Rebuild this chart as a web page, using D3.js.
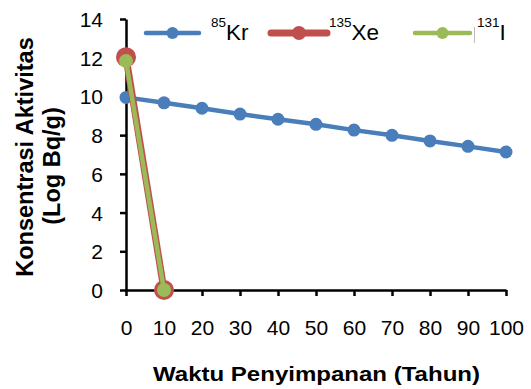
<!DOCTYPE html>
<html>
<head>
<meta charset="utf-8">
<script src="https://cdn.jsdelivr.net/npm/d3@7"></script>
<style>
  html, body { margin: 0; padding: 0; background: #fff; }
  svg { display: block; }
  text { font-family: "Liberation Sans", Arial, sans-serif; fill: #000; }
</style>
</head>
<body>
<svg id="chart" width="531" height="389"></svg>
<script>
// Storage time (years)
const years = [0, 10, 20, 30, 40, 50, 60, 70, 80, 90, 100];
// Activity concentration, log Bq/g
const kr85 = [9.95, 9.67, 9.39, 9.09, 8.82, 8.56, 8.26, 7.99, 7.70, 7.42, 7.13];
const xe135Years = [0, 10];
const xe135 = [12.03, 0];
const i131Years = [0, 10];
const i131 = [11.83, 0];
const yTicks = [0, 2, 4, 6, 8, 10, 12, 14];
const xTicks = [0, 10, 20, 30, 40, 50, 60, 70, 80, 90, 100];

const FONT = "'Liberation Sans', Arial, sans-serif";
const svg = d3.select("#chart");
const x = d3.scaleLinear().domain([0, 100]).range([126, 506]);
const y = d3.scaleLinear().domain([0, 14]).range([290, 19]);

// Axes
const yAxis = d3.axisLeft(y).tickValues(yTicks).tickSize(6).tickSizeOuter(0).tickPadding(17);
const gy = svg.append("g").attr("transform", `translate(${x(0)},0)`).call(yAxis);
gy.attr("font-family", FONT).attr("font-size", 21);
gy.select(".domain").attr("stroke", "#000").attr("stroke-width", 2.5);
gy.selectAll(".tick line").attr("stroke", "#000").attr("stroke-width", 2.5);
gy.selectAll(".tick text").attr("fill", "#000").attr("dy", "0.36em");

const xAxis = d3.axisBottom(x).tickValues(xTicks).tickSize(6).tickSizeOuter(0).tickPadding(24);
const gx = svg.append("g").attr("transform", `translate(0,${y(0)})`).call(xAxis);
gx.attr("font-family", FONT).attr("font-size", 21);
gx.select(".domain").attr("stroke", "#000").attr("stroke-width", 2.5);
gx.selectAll(".tick line").attr("stroke", "#000").attr("stroke-width", 2.5);
gx.selectAll(".tick text").attr("fill", "#000");

// Axis titles
svg.append("text")
  .attr("transform", "translate(33,157) rotate(-90)")
  .attr("text-anchor", "middle")
  .attr("font-size", 23.5).attr("font-weight", "bold")
  .text("Konsentrasi Aktivitas");
svg.append("text")
  .attr("transform", "translate(60,166) rotate(-90)")
  .attr("text-anchor", "middle")
  .attr("font-size", 23.5).attr("font-weight", "bold")
  .text("(Log Bq/g)");
svg.append("text")
  .attr("x", 153).attr("y", 381)
  .attr("font-size", 21).attr("font-weight", "bold")
  .attr("textLength", 327).attr("lengthAdjust", "spacingAndGlyphs")
  .text("Waktu Penyimpanan (Tahun)");

const line = d3.line().x(d => x(d[0])).y(d => y(d[1]));

const series = [
  { xs: years, ys: kr85, color: "#4a7ebb", width: 4.5, r: 6.5 },
  { xs: xe135Years, ys: xe135, color: "#c0504d", width: 7, r: 10 },
  { xs: i131Years, ys: i131, color: "#9bbb59", width: 4.5, r: 7 }
];

series.forEach(s => {
  const pts = s.xs.map((v, i) => [v, s.ys[i]]);
  svg.append("path").datum(pts)
    .attr("fill", "none").attr("stroke", s.color)
    .attr("stroke-width", s.width).attr("stroke-linejoin", "round")
    .attr("d", line);
  svg.selectAll(null).data(pts).enter().append("circle")
    .attr("cx", d => x(d[0])).attr("cy", d => y(d[1]))
    .attr("r", s.r).attr("fill", s.color);
});

// Legend
const legend = [
  { sup: "85", name: "Kr", color: "#4a7ebb", width: 4.5, r: 6, x1: 146, x2: 199, tx: 211 },
  { sup: "135", name: "Xe", color: "#c0504d", width: 7, r: 7, x1: 271, x2: 327, tx: 329 },
  { sup: "131", name: "I", color: "#9bbb59", width: 4.5, r: 6, x1: 415, x2: 470, tx: 477 }
];
const ly = 33;
legend.forEach(l => {
  svg.append("line").attr("x1", l.x1).attr("x2", l.x2).attr("y1", ly).attr("y2", ly)
    .attr("stroke", l.color).attr("stroke-width", l.width).attr("stroke-linecap", "round");
  svg.append("circle").attr("cx", (l.x1 + l.x2) / 2).attr("cy", ly).attr("r", l.r).attr("fill", l.color);
  const t = svg.append("text").attr("x", l.tx).attr("y", 39.5).attr("font-size", 22.5);
  t.append("tspan").attr("font-size", 13.5).attr("dy", -12.5).text(l.sup);
  t.append("tspan").attr("dy", 12.5).text(l.name);
});
svg.append("line").attr("x1", 474.5).attr("x2", 474.5).attr("y1", 27).attr("y2", 43)
  .attr("stroke", "#bbb").attr("stroke-width", 1);
</script>
</body>
</html>
